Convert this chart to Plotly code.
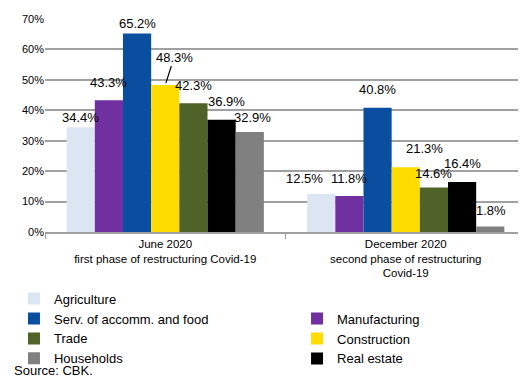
import plotly.graph_objects as go

categories = ["June 2020<br>first phase of restructuring Covid-19",
              "December 2020<br>second phase of restructuring<br>Covid-19"]
series_names = ["Agriculture", "Manufacturing", "Serv. of accomm. and food",
                "Construction", "Trade", "Real estate", "Households"]
agriculture = [34.4, 12.5]
manufacturing = [43.3, 11.8]
serv_accomm_food = [65.2, 40.8]
construction = [48.3, 21.3]
trade = [42.3, 14.6]
real_estate = [36.9, 16.4]
households = [32.9, 1.8]
series_values = [agriculture, manufacturing, serv_accomm_food, construction,
                 trade, real_estate, households]
y_ticks = [0, 10, 20, 30, 40, 50, 60, 70]
y_tick_labels = ["0%", "10%", "20%", "30%", "40%", "50%", "60%", "70%"]

colors = ["#dce6f2", "#7030a0", "#0a4ea0", "#ffdc00", "#4f6228", "#000000", "#808080"]
legend_column = ["legend", "legend2", "legend", "legend2", "legend", "legend2", "legend"]
# label offsets in px (dx, dy) per series per category
label_dx = [[0, -17], [0, 0], [0, 0], [9, 19], [0, 0], [5, 0], [3, 1]]
label_dy = [[0, 6], [8, 8], [1, 9], [0, 9], [8, 5], [9, 9], [5, 7]]

bargap = 0.18
font = "Liberation Sans, Arial, sans-serif"

fig = go.Figure()
for name, vals, col, lg in zip(series_names, series_values, colors, legend_column):
    fig.add_trace(go.Bar(x=categories, y=vals, name=name, marker_color=col,
                         marker_line_width=0, legend=lg))

n = len(series_names)
w = (1 - bargap) / n
annotations = []
for i, vals in enumerate(series_values):
    for g, v in enumerate(vals):
        xc = g + (i - (n - 1) / 2) * w
        txt = f"{v:.1f}%"
        if i == 3 and g == 0:
            annotations.append(dict(x=xc, y=v, xref="x", yref="y", text=txt,
                                    showarrow=True, arrowhead=0, arrowwidth=1.2,
                                    arrowcolor="#000", ax=label_dx[i][g], ay=-28,
                                    standoff=2, font=dict(size=13, color="#000", family=font)))
        else:
            annotations.append(dict(x=xc, y=v, xref="x", yref="y", text=txt,
                                    showarrow=False, yanchor="bottom",
                                    xshift=label_dx[i][g], yshift=label_dy[i][g],
                                    font=dict(size=13, color="#000", family=font)))
annotations.append(dict(xref="paper", yref="paper", xanchor="left",
                        yanchor="bottom", x=-0.069, y=-0.695, text="Source: CBK.",
                        showarrow=False, font=dict(size=13, color="#000", family=font)))

legend_style = dict(orientation="v", yanchor="bottom", xanchor="left", y=-0.665,
                    font=dict(size=13, family=font), traceorder="normal",
                    itemclick=False, bgcolor="rgba(0,0,0,0)")

fig.update_layout(
    width=526, height=381,
    margin=dict(l=37, r=8, t=11, b=157, autoexpand=False),
    barmode="group", bargap=bargap, bargroupgap=0,
    plot_bgcolor="white", paper_bgcolor="white",
    font=dict(family=font, color="#000"),
    showlegend=True,
    legend=dict(x=-0.0645, **legend_style),
    legend2=dict(x=0.524, **legend_style),
    annotations=annotations,
)
fig.update_xaxes(showline=True, linecolor="#a0a0a0", linewidth=1.5,
                 ticks="outside", tickson="boundaries", ticklen=5,
                 tickcolor="#a0a0a0", tickfont=dict(size=11.5, family=font),
                 showgrid=False, automargin=False)
fig.update_yaxes(range=[0, 70], tickvals=y_ticks, ticktext=y_tick_labels,
                 showgrid=True, gridcolor="#a0a0a0", gridwidth=1.5,
                 zeroline=False, showline=False, automargin=False,
                 tickfont=dict(size=11, family=font))

fig.write_html("out.html")
